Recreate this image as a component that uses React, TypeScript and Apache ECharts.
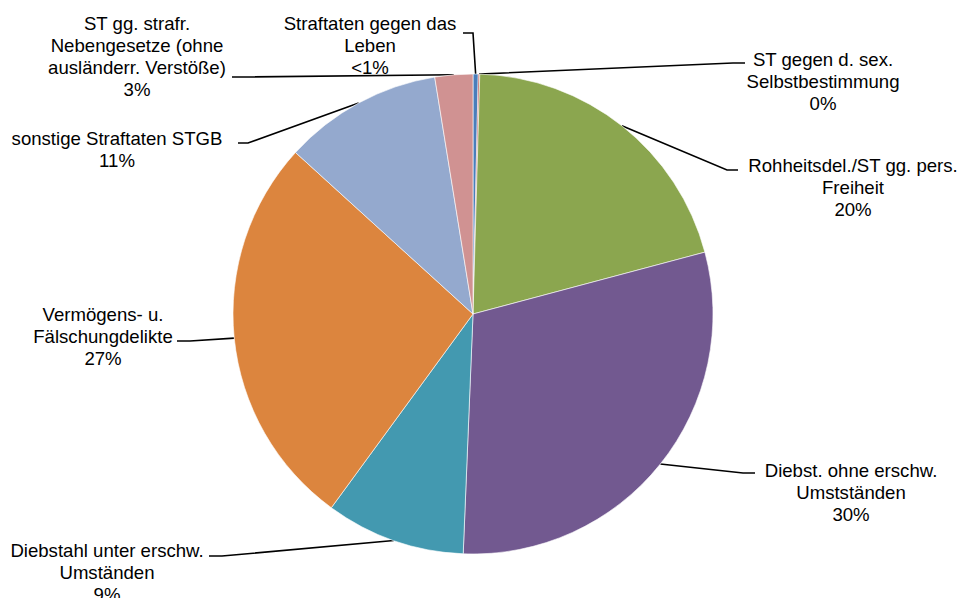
import React, { useEffect, useRef } from 'react';
import * as echarts from 'echarts';

const categories = [
  'Straftaten gegen das\nLeben',
  'ST gegen d. sex.\nSelbstbestimmung',
  'Rohheitsdel./ST gg. pers.\nFreiheit',
  'Diebst. ohne erschw.\nUmstständen',
  'Diebstahl unter erschw.\nUmständen',
  'Vermögens- u.\nFälschungdelikte',
  'sonstige Straftaten STGB',
  'ST gg. strafr.\nNebengesetze (ohne\nausländerr. Verstöße)',
];
const values = [0.35, 0.1, 20.4, 29.8, 9.4, 26.7, 10.7, 2.55];
const percentLabels = ['<1%', '0%', '20%', '30%', '9%', '27%', '11%', '3%'];
const colors = ['#4A7EBB', '#BE4B48', '#8BA64F', '#725990', '#4399B0', '#DC853E', '#94A9CE', '#D09292'];

// label placement: [centerX, centerY, lineEndX, lineEndY, bendX]
const labelBoxes = [
  [370, 45, 463, 33, 473],
  [823, 81, 745, 63, 733],
  [853, 187, 738, 170, 727],
  [851, 492, 755, 473, 743],
  [107, 572, 209, 556, 222],
  [103, 336, 177, 341, 190],
  [117, 149, 238, 143, 248],
  [137, 56, 232, 77, 243],
];

export default function App() {
  const ref = useRef<HTMLDivElement>(null);
  useEffect(() => {
    if (!ref.current) return;
    const chart = echarts.init(ref.current, null, { renderer: 'svg' });
    chart.setOption({
      animation: false,
      backgroundColor: '#ffffff',
      series: [
        {
          type: 'pie',
          center: [473, 314],
          radius: 240,
          startAngle: 90,
          clockwise: true,
          avoidLabelOverlap: false,
          data: categories.map((name, i) => ({
            name,
            value: values[i],
            itemStyle: { color: colors[i] },
          })),
          itemStyle: { borderColor: '#ffffff', borderWidth: 0.6 },
          emphasis: { disabled: true },
          label: {
            show: true,
            position: 'outside',
            formatter: (p: any) => categories[p.dataIndex] + '\n' + percentLabels[p.dataIndex],
            fontFamily: '"Liberation Sans", Arial, sans-serif',
            fontSize: 18.6,
            lineHeight: 22,
            color: '#000000',
            align: 'center',
          },
          labelLine: {
            show: true,
            length: 10,
            length2: 10,
            lineStyle: { color: '#000000', width: 1.6 },
          },
          labelLayout: (params: any) => {
            const b = labelBoxes[params.dataIndex];
            const p0 = params.labelLinePoints ? params.labelLinePoints[0] : [b[4], b[3]];
            return {
              x: b[0],
              y: b[1],
              align: 'center',
              verticalAlign: 'middle',
              labelLinePoints: [p0, [b[4], b[3]], [b[2], b[3]]],
            };
          },
        },
      ],
    });
    return () => chart.dispose();
  }, []);
  return (
    <div
      ref={ref}
      style={{ position: 'fixed', left: 0, top: 0, width: 960, height: 598 }}
    />
  );
}
